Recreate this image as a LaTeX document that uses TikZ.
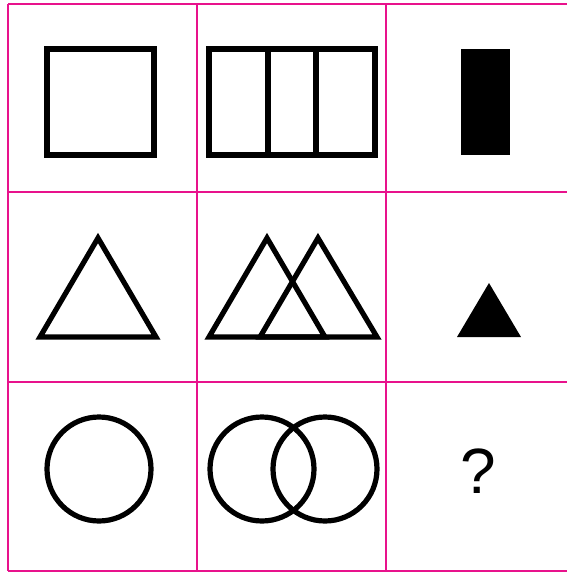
\documentclass[tikz,border=0pt]{standalone}
\usepackage{fontspec}
\setsansfont{Liberation Sans}
\definecolor{gridpink}{HTML}{E8128C}
\begin{document}
\begin{tikzpicture}[x=1pt,y=-1pt,line cap=butt,line join=miter]
  \def\w{5.2}
  \def\r{52}
  \useasboundingbox (0,0) rectangle (567,574);

  % Grid
  \foreach \gx in {8,197,386}
    \draw[gridpink,line width=2.4] (\gx,4) -- (\gx,571);
  \foreach \gy in {4,192,382,571}
    \draw[gridpink,line width=2.4] (8,\gy) -- (567,\gy);

  % Row 1: squares
  \draw[line width=\w] (47,49) rectangle (154,155);
  \draw[line width=\w] (209,49) rectangle (316,155);
  \draw[line width=\w] (268,49) rectangle (375,155);
  \fill (461,49) rectangle (510,155);

  % Row 2: triangles
  \draw[line width=\w] (40,337) -- (98,238) -- (156,337) -- cycle;
  \draw[line width=\w] (209,337) -- (267,238) -- (325,337) -- cycle;
  \draw[line width=\w] (260,337) -- (318,238) -- (377,337) -- cycle;
  \fill (457,337) -- (489,283) -- (521,337) -- cycle;

  % Row 3: circles
  \draw[line width=\w] (99,469) circle (\r);
  \draw[line width=\w] (262,469) circle (\r);
  \draw[line width=\w] (325,469) circle (\r);
  \node (ask) at (478,471) {\sffamily\fontsize{64}{64}\selectfont ?};
\end{tikzpicture}
\end{document}
